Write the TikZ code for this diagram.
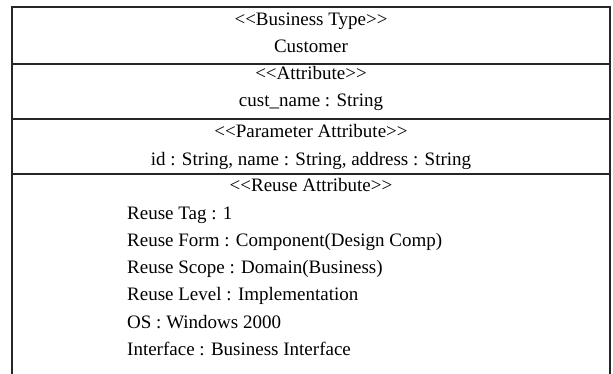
\documentclass[tikz,border=0pt]{standalone}
\usepackage{fontspec}
\setmainfont{Liberation Serif}
\usetikzlibrary{positioning}
\tikzset{frame/.style={draw=black!85,line width=1.3pt},
  row/.style={inner sep=0pt,text height=14pt,text depth=4pt,font=\fontsize{19}{23}\selectfont},
  item/.style={row,anchor=west}}

\begin{document}
\begin{tikzpicture}[x=1pt,y=-1pt]
\useasboundingbox (0,0) rectangle (613,374);
\draw[frame] (12,374) |- (610,7) -- (610,374);
\foreach \y in {64,119,174}{\draw[frame] (12,\y)--(610,\y);}
\node[row] (stype) at (311,21) {<{}<Business Type>{}>};
\node[row] (sname) at (311,48) {Customer};
\node[row] (attr) at (311,75) {<{}<Attribute>{}>};
\node[row] (attrval) at (311,102) {cust\_name : String};
\node[row] (param) at (311,133) {<{}<Parameter Attribute>{}>};
\node[row] (paramval) at (311,161) {id : String, name : String, address : String};
\node[row] (reuse) at (311,187) {<{}<Reuse Attribute>{}>};
\foreach \t [count=\i] in {Reuse Tag : 1,Reuse Form : Component(Design Comp),Reuse Scope : Domain(Business),Reuse Level : Implementation,OS : Windows 2000,Interface : Business Interface}
  {\node[item] (r\i) at (127,187+27.2*\i) {\t};}
\end{tikzpicture}
\end{document}
